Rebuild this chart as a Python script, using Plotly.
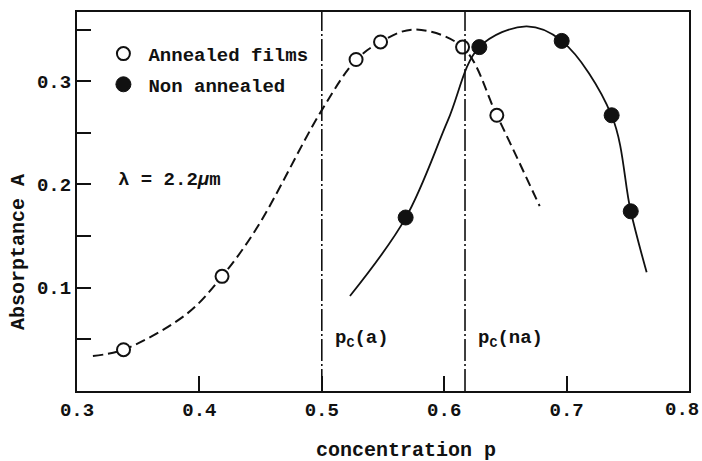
import plotly.graph_objects as go

# Measured absorptance at lambda = 2.2 um
ann_p = [0.338, 0.4185, 0.528, 0.548, 0.615, 0.643]
ann_A = [0.040, 0.111, 0.321, 0.338, 0.333, 0.267]
na_p = [0.5685, 0.6287, 0.696, 0.7368, 0.7524]
na_A = [0.168, 0.333, 0.339, 0.267, 0.174]

# Hand-drawn guide curves through the data
ann_curve_p = [0.313, 0.338, 0.39, 0.4185, 0.447, 0.50, 0.528, 0.548, 0.575, 0.615, 0.643, 0.678]
ann_curve_A = [0.034, 0.040, 0.075, 0.111, 0.158, 0.272, 0.3205, 0.338, 0.350, 0.333, 0.267, 0.179]
na_curve_p = [0.523, 0.5685, 0.603, 0.6287, 0.667, 0.696, 0.7368, 0.7524, 0.7654]
na_curve_A = [0.092, 0.1676, 0.262, 0.333, 0.353, 0.339, 0.2668, 0.174, 0.115]

# Percolation thresholds
pc_annealed = 0.5
pc_non_annealed = 0.617

x_ticks = [0.3, 0.4, 0.5, 0.6, 0.7, 0.8]
x_ticktext = ["0.3", "0.4", "0.5", "0.6", "0.7", ""]
x_last_label = "0.8"  # drawn separately so it stays inside the page
y_ticks = [0.05, 0.10, 0.15, 0.20, 0.25, 0.30, 0.35]
y_ticktext = ["", "0.1", "", "0.2", "", "0.3", ""]

FONT = "Liberation Mono, Courier New, monospace"
BLACK = "#111111"

# plot area in pixels (left, right, top, bottom)
L, R, T, B = 77, 689, 12, 391
W, H = R - L, B - T

fig = go.Figure()

fig.add_trace(go.Scatter(
    x=ann_curve_p, y=ann_curve_A, mode="lines", showlegend=False,
    line=dict(color=BLACK, width=2, dash="10px,5px", shape="spline", smoothing=1.0),
    hoverinfo="skip"))
fig.add_trace(go.Scatter(
    x=na_curve_p, y=na_curve_A, mode="lines", showlegend=False,
    line=dict(color=BLACK, width=1.8, shape="spline", smoothing=1.0),
    hoverinfo="skip"))

fig.add_trace(go.Scatter(
    x=ann_p, y=ann_A, mode="markers", name="Annealed films", legendgroup="a",
    marker=dict(symbol="circle", size=13, color="white",
                line=dict(color=BLACK, width=2))))
fig.add_trace(go.Scatter(
    x=na_p, y=na_A, mode="markers", name="Non annealed", legendgroup="b",
    marker=dict(symbol="circle", size=15, color=BLACK,
                line=dict(color=BLACK, width=1))))

for pc in (pc_annealed, pc_non_annealed):
    fig.add_shape(type="line", xref="x", yref="paper", x0=pc, x1=pc, y0=0, y1=1,
                  line=dict(color=BLACK, width=1.6, dash="22px,3px,2px,3px"))

ann_font = dict(family=FONT, size=19, color=BLACK, weight="bold")
fig.add_annotation(x=0.3315, y=0.204, xref="x", yref="y", text="λ = 2.2<i>μ</i>m",
                   showarrow=False, xanchor="left", yanchor="middle", font=ann_font)
fig.add_annotation(x=pc_annealed + 0.009, y=0.05, xref="x", yref="y",
                   text="p<sub>C</sub>(a)", showarrow=False, xanchor="left",
                   yanchor="middle", font=ann_font)
fig.add_annotation(x=pc_non_annealed + 0.009, y=0.05, xref="x", yref="y",
                   text="p<sub>C</sub>(na)", showarrow=False, xanchor="left",
                   yanchor="middle", font=ann_font)

# Last x tick label, right-aligned against the page edge
fig.add_annotation(x=x_ticks[-1], y=0, xref="x", yref="y domain", text=x_last_label,
                   showarrow=False, xanchor="right", yanchor="middle",
                   xshift=12, yshift=-19, font=ann_font)

# Axis titles
fig.add_annotation(x=(406 - L) / W, y=-(450 - B) / H, xref="x domain", yref="y domain",
                   text="concentration p", showarrow=False,
                   xanchor="center", yanchor="middle",
                   font=dict(family=FONT, size=20, color=BLACK, weight="bold"))
fig.add_annotation(x=-(L - 18) / W, y=(B - 252) / H, xref="x domain", yref="y domain",
                   text="Absorptance A", textangle=-90, showarrow=False,
                   xanchor="center", yanchor="middle",
                   font=dict(family=FONT, size=20, color=BLACK, weight="bold"))

axis_common = dict(showline=True, linecolor=BLACK, linewidth=2, mirror=True,
                   ticks="inside", tickcolor=BLACK, tickwidth=1.6, showgrid=False,
                   zeroline=False, automargin=False,
                   tickfont=dict(family=FONT, size=19, color=BLACK, weight="bold"))

fig.update_xaxes(range=[0.3, 0.8], tickvals=x_ticks, ticktext=x_ticktext, ticklen=15,
                 **axis_common)
fig.update_yaxes(range=[0.0, 0.367], tickvals=y_ticks, ticktext=y_ticktext, ticklen=14,
                 **axis_common)

fig.update_layout(
    width=702, height=461,
    margin=dict(l=L, r=702 - R, t=T, b=461 - B, autoexpand=False),
    plot_bgcolor="white", paper_bgcolor="white",
    legend=dict(x=0.035, y=0.94, xanchor="left", yanchor="top",
                font=dict(family=FONT, size=19, color=BLACK, weight="bold"),
                bgcolor="rgba(0,0,0,0)", itemwidth=40, tracegroupgap=3),
)

fig.write_html("out.html")
